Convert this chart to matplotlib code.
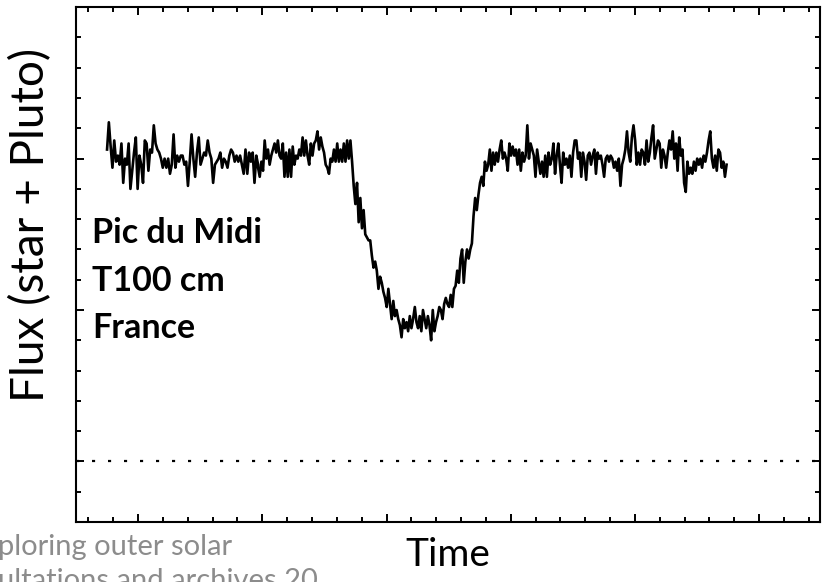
import numpy as np
import matplotlib
matplotlib.use("Agg")
import matplotlib.pyplot as plt
from matplotlib.ticker import MultipleLocator, NullFormatter

# ---- data (flux normalised: 1 = unocculted star + Pluto, 0 = dotted level) ----
flux_seg1 = [1.03, 1.12, 1.04, 0.97, 1.06, 0.99, 1.01, 0.98, 1.05, 0.92, 1.00, 0.98, 1.05, 0.90,
             0.96, 1.02, 1.07, 0.90, 1.01, 0.98, 0.92, 1.06, 1.05, 0.96, 1.03, 1.02, 1.11, 1.05,
             1.03, 1.02, 1.00, 0.97, 1.00, 0.97, 1.00, 0.95, 0.98, 1.08, 0.97, 1.01, 0.99, 1.01,
             1.01, 0.98, 0.99, 0.91, 0.99, 1.08, 1.00, 0.94, 1.02, 1.07, 0.98, 1.00, 1.02, 1.01,
             1.06, 1.02, 1.00, 0.92, 0.98, 0.99, 1.00, 1.02, 0.97, 1.00, 0.99, 0.97, 1.01, 1.03,
             1.02, 0.99, 1.01, 0.99, 1.01, 0.98, 0.95, 1.03, 0.95, 1.02, 0.99, 1.02, 0.92, 1.01, 0.98]
flux_seg2 = [0.97, 0.94, 0.99, 0.96, 1.06, 1.00, 1.03, 0.98, 1.01, 1.03, 1.05, 1.02, 1.06, 1.01,
             1.00, 1.05, 0.94, 1.02, 0.94, 1.03, 0.94, 1.04, 0.98, 1.01, 1.00, 1.03, 1.01, 1.07,
             1.01, 1.06, 1.01, 0.98, 1.05, 1.01, 1.05, 1.06, 1.09, 1.03, 1.07, 1.04, 1.02, 0.98,
             0.97, 0.95, 1.00, 0.99, 1.03, 0.99, 1.05, 0.99, 1.03, 0.99, 1.05, 0.99, 1.06, 1.00,
             1.06, 0.99, 0.91, 0.85, 0.92, 0.79, 0.87, 0.77, 0.83, 0.75, 0.74, 0.73, 0.73, 0.68,
             0.64, 0.66, 0.63, 0.57, 0.61, 0.59, 0.56, 0.54, 0.51, 0.57, 0.52, 0.47, 0.53, 0.48,
             0.50, 0.47, 0.45, 0.41, 0.47, 0.44, 0.46, 0.43, 0.48, 0.44, 0.47]
flux_seg3 = [0.51, 0.46, 0.44, 0.48, 0.43, 0.50, 0.47, 0.44, 0.48, 0.45, 0.40, 0.50, 0.43, 0.46,
             0.48, 0.51, 0.50, 0.47, 0.52, 0.54, 0.52, 0.51, 0.55, 0.51, 0.57, 0.58, 0.63, 0.59,
             0.67, 0.70, 0.59, 0.66, 0.70, 0.67, 0.70, 0.72, 0.81, 0.87, 0.83, 0.88, 0.92, 0.94,
             0.91, 0.99, 0.96, 0.98, 1.03, 0.96, 1.02, 0.98, 1.02, 0.99, 1.03, 1.06, 1.00, 1.02,
             1.00, 0.96, 1.05, 1.01, 1.04, 1.01, 1.03, 0.98, 1.03, 0.96, 1.02, 0.99, 1.01, 1.11,
             1.00, 1.05, 1.03, 1.01, 0.94, 1.03, 0.99, 0.95, 0.99, 0.94, 1.01, 0.94, 1.02, 0.98,
             1.00, 1.05, 0.95, 1.01, 1.05, 0.98, 0.92, 1.02, 0.98, 1.00, 0.97]
flux_seg4 = [1.01, 0.94, 1.02, 1.06, 1.06, 1.00, 1.02, 0.94, 1.02, 0.99, 0.93, 1.01, 1.02, 0.98,
             1.01, 1.03, 0.95, 1.02, 1.00, 1.01, 0.98, 0.94, 1.00, 1.01, 0.99, 1.01, 1.00, 0.97,
             0.99, 0.96, 1.00, 0.91, 0.98, 1.00, 1.03, 1.09, 1.02, 0.99, 1.07, 1.11, 1.06, 0.98,
             1.02, 0.98, 1.03, 1.02, 0.98, 1.06, 0.99, 1.02, 1.07, 1.11, 1.00, 1.03, 1.06, 1.05,
             0.97, 1.03, 1.01, 0.97, 1.02, 1.06, 1.03, 1.09, 1.00, 1.05, 0.96, 1.07, 1.01, 1.03,
             0.92, 0.89, 0.99, 0.95, 0.97, 0.95, 0.99, 0.96, 1.00, 0.98, 1.00, 0.97, 1.01, 0.99,
             1.02, 1.06, 1.09, 1.00, 0.97, 1.01, 0.96, 1.03, 1.02, 0.97, 0.99, 0.94, 0.98]
# time span (arbitrary units) covered by each segment of the light curve
seg_times = [(-0.250, 0.966), (0.966, 2.214), (2.228, 3.462), (3.476, 4.738)]
background_level = 0.0

site_text = "Pic du Midi\nT100 cm\nFrance"
ylabel = "Flux (star + Pluto)"
xlabel = "Time"
footer_text = "ploring outer solar\nultations and archives 20"

# ---- build series ----
segs = [flux_seg1, flux_seg2, flux_seg3, flux_seg4]
time = np.concatenate([np.linspace(a, b, len(s)) for (a, b), s in zip(seg_times, segs)])
flux = np.concatenate([np.asarray(s, float) for s in segs])

plt.rcParams['font.family'] = ['Lato', 'DejaVu Sans']

fig = plt.figure(figsize=(8.27, 5.82), dpi=100)
ax = fig.add_axes([0.0919, 0.1031, 0.8996, 0.8845])

ax.plot(time, flux, color='black', lw=1.9, solid_joinstyle='round')
ax.axhline(background_level, color='black', lw=1.6, linestyle=(0, (1.4, 5.8)))

ax.set_xlim(-0.5, 5.49)
ax.set_ylim(-0.2, 1.5)
ax.xaxis.set_major_locator(MultipleLocator(1.0))
ax.xaxis.set_minor_locator(MultipleLocator(0.2))
ax.yaxis.set_major_locator(MultipleLocator(0.5))
ax.yaxis.set_minor_locator(MultipleLocator(0.1))
ax.xaxis.set_major_formatter(NullFormatter())
ax.yaxis.set_major_formatter(NullFormatter())
ax.tick_params(which='both', direction='in', top=True, right=True, width=1.4, color='black')
ax.tick_params(which='major', length=6)
ax.tick_params(which='minor', length=3.6)
for sp in ax.spines.values():
    sp.set_linewidth(1.5)

ax.text(0.022, 0.592, site_text, transform=ax.transAxes, fontsize=24.5, fontweight='bold',
        va='top', ha='left', linespacing=1.6)

fig.text(0.037, 0.613, ylabel, rotation=90, fontsize=33, ha='center', va='center')
fig.text(0.542, 0.047, xlabel, fontsize=28, ha='center', va='center')
fig.text(-0.003, 0.083, footer_text, fontsize=21, color='#8c8c8c', ha='left', va='top',
         linespacing=1.38)

fig.savefig("out.png", dpi=100)
